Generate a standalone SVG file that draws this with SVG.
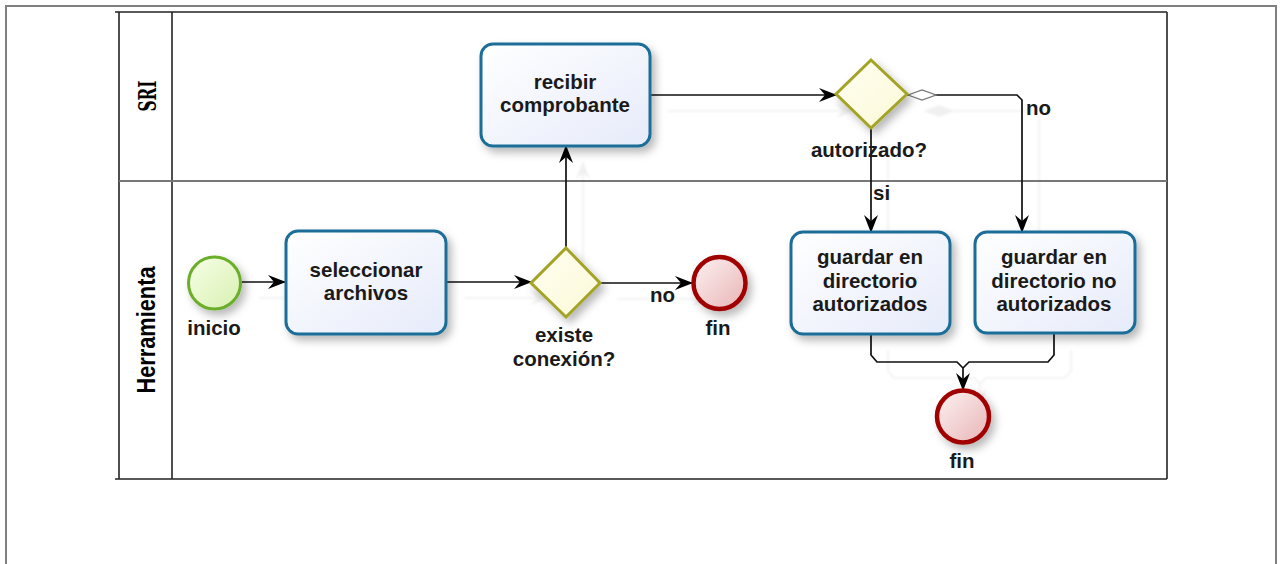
<svg xmlns="http://www.w3.org/2000/svg" width="1282" height="564" viewBox="0 0 1282 564">
  <defs>
    <linearGradient id="taskFill" x1="0" y1="0" x2="1" y2="1">
      <stop offset="0" stop-color="#ffffff"/>
      <stop offset="1" stop-color="#e6ebfa"/>
    </linearGradient>
    <linearGradient id="gateFill" x1="0" y1="0" x2="1" y2="1">
      <stop offset="0" stop-color="#fffff2"/>
      <stop offset="1" stop-color="#fbf8d6"/>
    </linearGradient>
    <linearGradient id="startFill" x1="0" y1="0" x2="1" y2="1">
      <stop offset="0" stop-color="#f7ffe8"/>
      <stop offset="1" stop-color="#d8f0b0"/>
    </linearGradient>
    <linearGradient id="endFill" x1="0" y1="0" x2="1" y2="1">
      <stop offset="0" stop-color="#fdf2f2"/>
      <stop offset="1" stop-color="#e8b4b6"/>
    </linearGradient>
    <filter id="shadow" x="-30%" y="-30%" width="170%" height="170%">
      <feDropShadow dx="4" dy="5" stdDeviation="4" flood-color="#000" flood-opacity="0.28"/>
    </filter>
    <filter id="lineShadow" x="-10%" y="-10%" width="130%" height="130%">
      <feDropShadow dx="17" dy="16" stdDeviation="1" flood-color="#000" flood-opacity="0.06"/>
    </filter>
    <marker id="arrow" viewBox="0 0 18 18" refX="17" refY="9" markerWidth="18" markerHeight="18" markerUnits="userSpaceOnUse" orient="auto">
      <path d="M0,2 L18,9 L0,16 L6,9 Z" fill="#000"/>
    </marker>
    <marker id="defaultFlow" viewBox="0 0 32 12" refX="0" refY="6" markerWidth="32" markerHeight="12" markerUnits="userSpaceOnUse" orient="auto">
      <path d="M1,6 L15,1 L29,6 L15,11 Z" fill="#fff" stroke="#777" stroke-width="1.3"/>
    </marker>
  </defs>
  <style>
    .frame { fill: none; stroke: #808080; stroke-width: 2; }
    .pool { fill: none; stroke: #222; stroke-width: 1.6; }
    .lane { fill: none; stroke: #777; stroke-width: 2; }
    .task { fill: url(#taskFill); stroke: #1a6e98; stroke-width: 3; filter: url(#shadow); }
    .gate { fill: url(#gateFill); stroke: #a3a326; stroke-width: 3; filter: url(#shadow); }
    .start { fill: url(#startFill); stroke: #6aae2a; stroke-width: 3; filter: url(#shadow); }
    .end { fill: url(#endFill); stroke: #a00000; stroke-width: 4.5; filter: url(#shadow); }
    .line { fill: none; stroke: #111; stroke-width: 1.7; }
    .flow { fill: none; stroke: #111; stroke-width: 1.7; marker-end: url(#arrow); }
    .txt { font-family: "Liberation Sans", Arial, sans-serif; font-weight: bold; font-size: 20.5px; fill: #1a1a1a; text-anchor: middle; }
    .lbl { font-family: "Liberation Sans", Arial, sans-serif; font-weight: bold; font-size: 20.5px; fill: #1a1a1a; }
    .laneTitle { font-family: "Liberation Sans", Arial, sans-serif; font-weight: bold; font-size: 26px; fill: #000; text-anchor: middle; }
    .laneTitleSerif { font-family: "DejaVu Serif", "Liberation Serif", serif; font-weight: bold; font-size: 24px; fill: #000; text-anchor: middle; }
  </style>

  <!-- page frame -->
  <path class="frame" d="M6,570 V6 H1276 V570"/>

  <!-- pool and lanes -->
  <g id="pool">
    <line class="pool" x1="115" y1="12" x2="1167" y2="12"/>
    <line class="pool" x1="115" y1="479" x2="1167" y2="479"/>
    <line class="pool" x1="119" y1="12" x2="119" y2="479"/>
    <line class="pool" x1="1167" y1="12" x2="1167" y2="479"/>
    <line class="pool" x1="172" y1="12" x2="172" y2="479" stroke="#555"/>
    <line class="lane" x1="119" y1="181" x2="1167" y2="181"/>
  </g>
  <g id="lane-sri">
    <text class="laneTitleSerif" transform="translate(156,96) rotate(-90)" textLength="31" lengthAdjust="spacingAndGlyphs">SRI</text>
  </g>
  <g id="lane-herramienta">
    <text class="laneTitle" transform="translate(155,330) rotate(-90)" textLength="127" lengthAdjust="spacingAndGlyphs">Herramienta</text>
  </g>

  <!-- connectors -->
  <g id="connectors" filter="url(#lineShadow)">
    <path class="flow" d="M242,282 H285"/>
    <path class="flow" d="M447,282 H531"/>
    <path class="flow" d="M566,248 V146"/>
    <path class="flow" d="M600,283 H692"/>
    <path class="flow" d="M650,95 H836"/>
    <path class="flow" d="M871,128 V232"/>
    <path class="flow" d="M907,95 H1017 L1022,100 V232" style="marker-start:url(#defaultFlow)"/>
    <path class="flow" d="M871,334 V355 L877,362 H957 L963,368 V390"/>
    <path class="line" d="M1054,334 V355 L1048,362 H969 L963,368"/>
  </g>

  <!-- connector labels -->
  <g id="connector-labels">
    <text class="lbl" x="650" y="302">no</text>
    <text class="lbl" x="1026" y="115">no</text>
    <text class="lbl" x="873" y="200">si</text>
  </g>

  <!-- nodes -->
  <g id="inicio">
    <circle class="start" cx="214.5" cy="283" r="26"/>
    <text class="txt" x="214" y="335">inicio</text>
  </g>
  <g id="seleccionar-archivos">
    <rect class="task" x="286" y="231" width="160" height="103" rx="12"/>
    <text class="txt" x="366" y="277">seleccionar</text>
    <text class="txt" x="366" y="300">archivos</text>
  </g>
  <g id="existe-conexion">
    <polygon class="gate" points="566,248 600,283 566,317 531,283"/>
    <text class="txt" x="564" y="342">existe</text>
    <text class="txt" x="564" y="366">conexión?</text>
  </g>
  <g id="fin-sin-conexion">
    <circle class="end" cx="719.5" cy="283" r="26"/>
    <text class="txt" x="718" y="335">fin</text>
  </g>
  <g id="recibir-comprobante">
    <rect class="task" x="481" y="44" width="169" height="102" rx="12"/>
    <text class="txt" x="565" y="89">recibir</text>
    <text class="txt" x="565" y="112">comprobante</text>
  </g>
  <g id="autorizado">
    <polygon class="gate" points="871,60 907,94 871,128 836,94"/>
    <text class="txt" x="869" y="157">autorizado?</text>
  </g>
  <g id="guardar-autorizados">
    <rect class="task" x="791" y="232" width="159" height="102" rx="12"/>
    <text class="txt" x="870" y="264">guardar en</text>
    <text class="txt" x="870" y="288">directorio</text>
    <text class="txt" x="870" y="311">autorizados</text>
  </g>
  <g id="guardar-no-autorizados">
    <rect class="task" x="975" y="232" width="160" height="101" rx="12"/>
    <text class="txt" x="1054" y="264">guardar en</text>
    <text class="txt" x="1054" y="288">directorio no</text>
    <text class="txt" x="1054" y="311">autorizados</text>
  </g>
  <g id="fin-guardado">
    <circle class="end" cx="963" cy="416.5" r="26"/>
    <text class="txt" x="962" y="468">fin</text>
  </g>
</svg>
